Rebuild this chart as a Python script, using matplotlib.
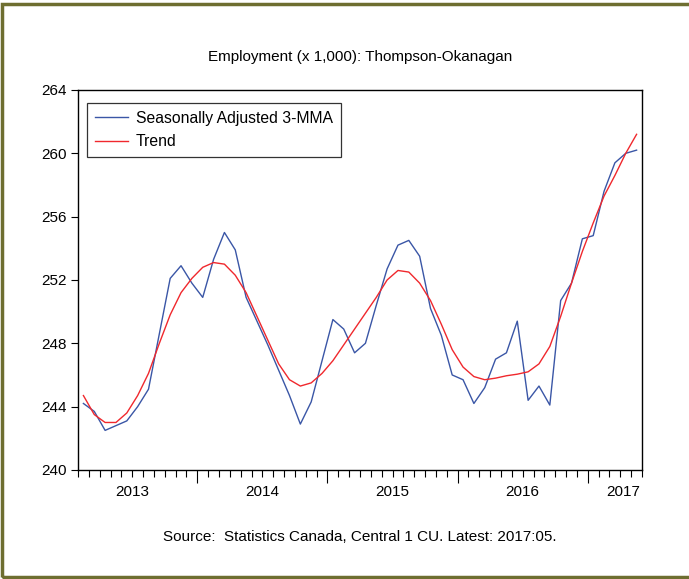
import pandas as pd
import matplotlib
matplotlib.use('Agg')
import matplotlib.pyplot as plt
from matplotlib.patches import Rectangle

plt.rcParams['font.family'] = ['Liberation Sans', 'DejaVu Sans']

# monthly, 2013:02 - 2017:05
months = pd.period_range('2013-02', '2017-05', freq='M')

sa_3mma = [244.2, 243.7, 242.5, 242.8, 243.1, 244.0, 245.1, 248.6, 252.1, 252.9,
           251.8, 250.9, 253.3, 255.0, 253.9, 250.9, 249.4, 247.9, 246.3, 244.7,
           242.9, 244.3, 246.9, 249.5, 248.9, 247.4, 248.0, 250.4, 252.7, 254.2,
           254.5, 253.5, 250.2, 248.5, 246.0, 245.7, 244.2, 245.2, 247.0, 247.4,
           249.4, 244.4, 245.3, 244.1, 250.7, 251.8, 254.6, 254.8, 257.6, 259.4,
           260.0, 260.2]
trend = [244.7, 243.5, 243.0, 243.0, 243.6, 244.7, 246.1, 248.0, 249.8, 251.2,
         252.1, 252.8, 253.1, 253.0, 252.3, 251.2, 249.7, 248.2, 246.7, 245.7,
         245.3, 245.5, 246.1, 246.9, 247.9, 248.9, 249.9, 250.9, 252.0, 252.6,
         252.5, 251.8, 250.7, 249.2, 247.6, 246.5, 245.9, 245.7, 245.8, 245.95,
         246.05, 246.2, 246.7, 247.8, 249.7, 251.8, 253.8, 255.6, 257.3, 258.6,
         260.0, 261.2]

year_labels = ['2013', '2014', '2015', '2016', '2017']

x = [i + 0.5 for i in range(len(months))]
year_starts = [i for i, m in enumerate(months) if m.month == 1]

fig = plt.figure(figsize=(6.89, 5.79), dpi=100)
ax = fig.add_axes([0.1132, 0.1883, 0.8186, 0.6563])

ax.plot(x, sa_3mma, color='#3a56a6', lw=1.0, label='Seasonally Adjusted 3-MMA')
ax.plot(x, trend, color='#f0282d', lw=1.0, label='Trend')

ax.set_xlim(0, len(months))
ax.set_ylim(240, 264)
ax.set_yticks(range(240, 265, 4))
ax.set_xticks(year_starts)
ax.set_xticklabels([])
ax.set_xticks(range(len(months) + 1), minor=True)
ax.tick_params(axis='x', which='major', length=9, width=0.8, direction='out')
ax.tick_params(axis='x', which='minor', length=5, width=0.8, direction='out')
ax.tick_params(axis='y', length=5, width=0.8, direction='out', labelsize=11, pad=3)
for s in ax.spines.values():
    s.set_linewidth(1.0)

# year labels centred on each calendar year
lab_pos = [year_starts[0] - 6, year_starts[0] + 6, year_starts[1] + 6,
           year_starts[2] + 6, len(months) - 1.7]
for p, t in zip(lab_pos, year_labels):
    ax.text(p, -0.058, t, transform=ax.get_xaxis_transform(),
            ha='center', va='center', fontsize=11)

leg = ax.legend(loc='upper left', bbox_to_anchor=(0.016, 0.966), fontsize=11.3,
                frameon=True, fancybox=False, handlelength=2.1, handletextpad=0.5,
                borderpad=0.5, labelspacing=0.55, borderaxespad=0)
leg.get_frame().set_edgecolor('black')
leg.get_frame().set_linewidth(0.9)

fig.text(0.522, 0.902, 'Employment (x 1,000): Thompson-Okanagan',
         ha='center', va='center', fontsize=11)
fig.text(0.522, 0.0725, 'Source:  Statistics Canada, Central 1 CU. Latest: 2017:05.',
         ha='center', va='center', fontsize=11)

fig.patches.append(Rectangle((0.0036, 0.0035), 1.2, 0.99, transform=fig.transFigure,
                             fill=False, edgecolor='#6e6e30', linewidth=2.5,
                             clip_on=False))

plt.savefig('out.png', dpi=100)
